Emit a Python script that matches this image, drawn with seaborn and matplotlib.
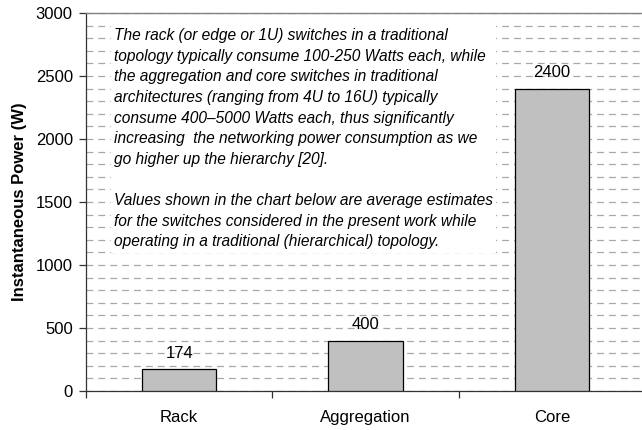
import matplotlib
matplotlib.use("Agg")
import matplotlib.pyplot as plt
import seaborn as sns
import pandas as pd
from matplotlib.ticker import MultipleLocator, FixedLocator

# data
switches = ["Rack", "Aggregation", "Core"]
power_w = [174, 400, 2400]
y_ticks = [0, 500, 1000, 1500, 2000, 2500, 3000]

note = ("The rack (or edge or 1U) switches in a traditional\n"
        "topology typically consume 100-250 Watts each, while\n"
        "the aggregation and core switches in traditional\n"
        "architectures (ranging from 4U to 16U) typically\n"
        "consume 400\u20135000 Watts each, thus significantly\n"
        "increasing  the networking power consumption as we\n"
        "go higher up the hierarchy [20].\n"
        "\n"
        "Values shown in the chart below are average estimates\n"
        "for the switches considered in the present work while\n"
        "operating in a traditional (hierarchical) topology.")

df = pd.DataFrame({"Switch": switches, "Power": power_w})

sns.set_style("white")
plt.rcParams['font.family'] = ['Liberation Sans', 'DejaVu Sans']
plt.rcParams.update({'text.color': 'black', 'axes.labelcolor': 'black',
                     'xtick.color': 'black', 'ytick.color': 'black'})

fig = plt.figure(figsize=(6.42, 4.30), dpi=100)
ax = fig.add_axes([86 / 642, 39 / 430, 559 / 642, 378 / 430])

sns.barplot(data=df, x="Switch", y="Power", color="#C0C0C0", saturation=1,
            edgecolor="black", linewidth=0.9, width=0.4, ax=ax, zorder=3)

ax.set_xlim(-0.5, 2.5)
ax.set_ylim(0, 3000)
ax.set_yticks(y_ticks)
ax.yaxis.set_minor_locator(MultipleLocator(100))
ax.grid(which="both", axis="y", color="#A8A8A8", lw=0.9,
        linestyle=(0, (5.5, 4)), zorder=0)
ax.grid(which="both", axis="x", visible=False)
ax.set_axisbelow(True)

# category boundary ticks on x
ax.xaxis.set_minor_locator(FixedLocator([-0.5, 0.5, 1.5, 2.5]))
ax.tick_params(axis="x", which="major", length=0, pad=14, labelsize=12)
ax.tick_params(axis="x", which="minor", length=5, width=0.9, color="#333333",
               direction="out", bottom=True)
ax.tick_params(axis="y", which="major", length=5, width=0.9, color="#333333",
               direction="out", left=True, pad=4.5, labelsize=12)
ax.tick_params(axis="y", which="minor", length=0)

for side in ["left", "bottom"]:
    ax.spines[side].set_color("#333333")
    ax.spines[side].set_linewidth(0.9)
ax.spines["top"].set_color("#808080")
ax.spines["top"].set_linewidth(1.0)
ax.spines["right"].set_visible(False)

ax.set_xlabel("")
ax.set_ylabel("Instantaneous Power (W)", fontsize=12, fontweight="bold",
              labelpad=6)

for c in ax.containers:
    ax.bar_label(c, fmt="%d", padding=6, fontsize=12, zorder=4)

ax.text((114 - 86) / 559, 1 - (27 - 12) / 378, note,
        transform=ax.transAxes, fontsize=11.2, style="italic",
        ha="left", va="top", linespacing=1.47, zorder=5,
        bbox=dict(facecolor="white", edgecolor="none", pad=2.5))

fig.savefig("out.png", dpi=100)
